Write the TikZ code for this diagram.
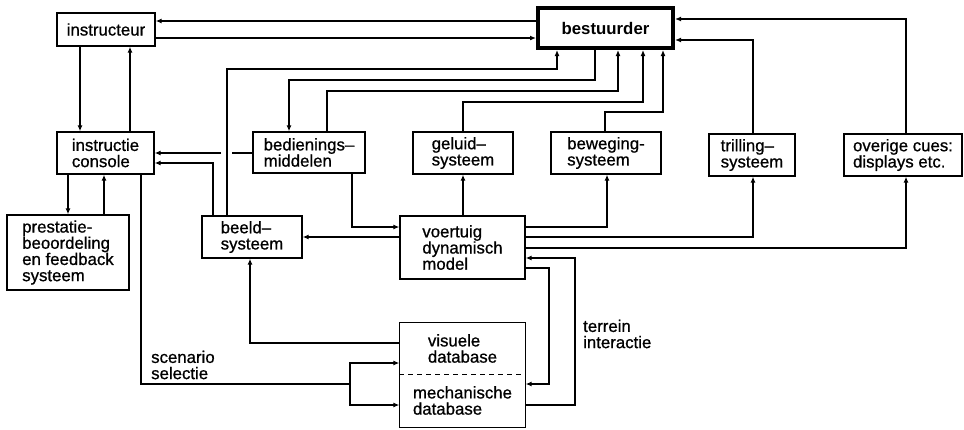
\documentclass[tikz,border=0pt]{standalone}
\usepackage{fontspec}
\setmainfont{Liberation Sans}
\newfontfamily\medfam{Liberation Sans}[RawFeature={embolden=0.8}]
\newfontfamily\boldfam{Liberation Sans Bold}
\usetikzlibrary{arrows.meta}
\begin{document}
\begin{tikzpicture}[x=1pt,y=-1pt,
  txt/.style={font=\fontsize{16.8}{16.2}\medfam},
  box/.style={txt, draw, line width=1.3pt, align=left, inner sep=0pt},
  dbpart/.style={txt, align=left, inner sep=0pt, outer sep=0.65pt, minimum width=125pt},
  conn/.style={line width=1.3pt},
  arr/.style={conn, -{Latex[length=6pt,width=5pt]}},
  lbl/.style={txt, align=left, inner sep=0pt, anchor=west}]
\useasboundingbox (0,0) rectangle (964,429);
\fill[white] (0,0) rectangle (964,429);
% boxes
\node[box, minimum width=98pt, minimum height=33pt] (instructeur) at (106,29.5) {instructeur};
\node[box, line width=4pt, minimum width=135pt, minimum height=40pt, font=\fontsize{16.8}{16}\boldfam] (bestuurder) at (605.5,28) {bestuurder};
\node[box, minimum width=97pt, minimum height=42pt] (console) at (105.5,153) {instructie\\console};
\node[box, minimum width=112pt, minimum height=41pt] (bedien) at (309,152.5) {bedienings–\\middelen};
\node[box, minimum width=100pt, minimum height=42pt] (geluid) at (463,153) {geluid–\\systeem};
\node[box, minimum width=110pt, minimum height=42pt] (beweging) at (606,153) {beweging-\\systeem};
\node[box, minimum width=86pt, minimum height=42pt] (trilling) at (752,155) {trilling–\\systeem};
\node[box, minimum width=118pt, minimum height=42pt] (overige) at (903,155) {overige cues:\\displays etc.};
\node[box, minimum width=122pt, minimum height=75pt] (prestatie) at (68,252.5) {prestatie-\\beoordeling\\en feedback\\systeem};
\node[box, minimum width=100pt, minimum height=42pt] (beeld) at (252,237) {beeld–\\systeem};
\node[box, minimum width=125pt, minimum height=63pt] (voertuig) at (462.5,247.5) {voertuig\\dynamisch\\model};
\node[dbpart, minimum height=51pt] (visdb) at (462.5,348.5) {visuele\\database};
\node[dbpart, minimum height=53pt] (mechdb) at (462.5,400.5) {mechanische\\database};
\draw[conn] (visdb.north west) rectangle (mechdb.south east);
\draw[conn, line width=1.2pt, dash pattern=on 5pt off 4pt] (visdb.south west) -- (visdb.south east);
% labels
\node[lbl] (scen) at (151,365) {scenario\\selectie};
\node[lbl] (terr) at (583,334) {terrein\\interactie};
% instructeur <-> bestuurder
\draw[arr] (bestuurder.west |- 0,21) -- (instructeur.east |- 0,21);
\draw[arr] (instructeur.east |- 0,38) -- (bestuurder.west |- 0,38);
% instructeur <-> console
\draw[arr] (instructeur.south -| 80,0) -- (console.north -| 80,0);
\draw[arr] (console.north -| 130,0) -- (instructeur.south -| 130,0);
% console <-> prestatie
\draw[arr] (console.south -| 68,0) -- (prestatie.north -| 68,0);
\draw[arr] (prestatie.north -| 104,0) -- (console.south -| 104,0);
% scenario selectie
\coordinate (sc) at (350,384);
\draw[conn] (console.south -| 141,0) |- (sc);
\draw[arr] (sc) |- (visdb.west |- 0,363);
\draw[arr] (sc) |- (mechdb.west |- 0,405);
% visuele database -> beeld
\draw[arr] (visdb.west |- 0,343) -| (beeld.south -| 250,0);
% voertuig -> beeld
\draw[arr] (voertuig.west |- 0,237) -- (beeld.east |- 0,237);
% bedien -> voertuig
\draw[arr] (bedien.south -| 352,0) |- (voertuig.west |- 0,227);
% beeld -> console
\draw[arr] (beeld.north -| 213,0) |- (console.east |- 0,163);
% bedien -> console (with crossing gap)
\coordinate (gapR) at (232,153);
\coordinate (gapL) at (221,153);
\draw[conn] (bedien.west |- 0,153) -- (gapR);
\draw[arr] (gapL) -- (console.east |- 0,153);
% beeld -> bestuurder
\draw[arr] (beeld.north -| 227,0) -- (227,69) -| (bestuurder.south -| 557,0);
% bestuurder -> bedien
\draw[arr] (bestuurder.south -| 595,0) -- (595,80) -| (bedien.north -| 289,0);
% bedien -> bestuurder
\draw[arr] (bedien.north -| 327,0) -- (327,91) -| (bestuurder.south -| 618,0);
% geluid -> bestuurder
\draw[arr] (geluid.north -| 463,0) -- (463,102) -| (bestuurder.south -| 643,0);
% beweging -> bestuurder
\draw[arr] (beweging.north -| 605,0) -- (605,112) -| (bestuurder.south -| 663,0);
% trilling, overige -> bestuurder
\draw[arr] (trilling.north -| 753,0) |- (bestuurder.east |- 0,40);
\draw[arr] (overige.north -| 906,0) |- (bestuurder.east |- 0,19);
% voertuig -> cue systems
\draw[arr] (voertuig.north -| 463,0) -- (geluid.south -| 463,0);
\draw[arr] (voertuig.east |- 0,227) -| (beweging.south -| 607,0);
\draw[arr] (voertuig.east |- 0,237) -| (trilling.south -| 753,0);
\draw[arr] (voertuig.east |- 0,248) -| (overige.south -| 906,0);
% terrein interactie
\draw[arr] (mechdb.east |- 0,405) -- (575,405) |- (voertuig.east |- 0,258);
\draw[arr] (voertuig.east |- 0,268) -- (549,268) |- (mechdb.east |- 0,384);
\end{tikzpicture}
\end{document}
